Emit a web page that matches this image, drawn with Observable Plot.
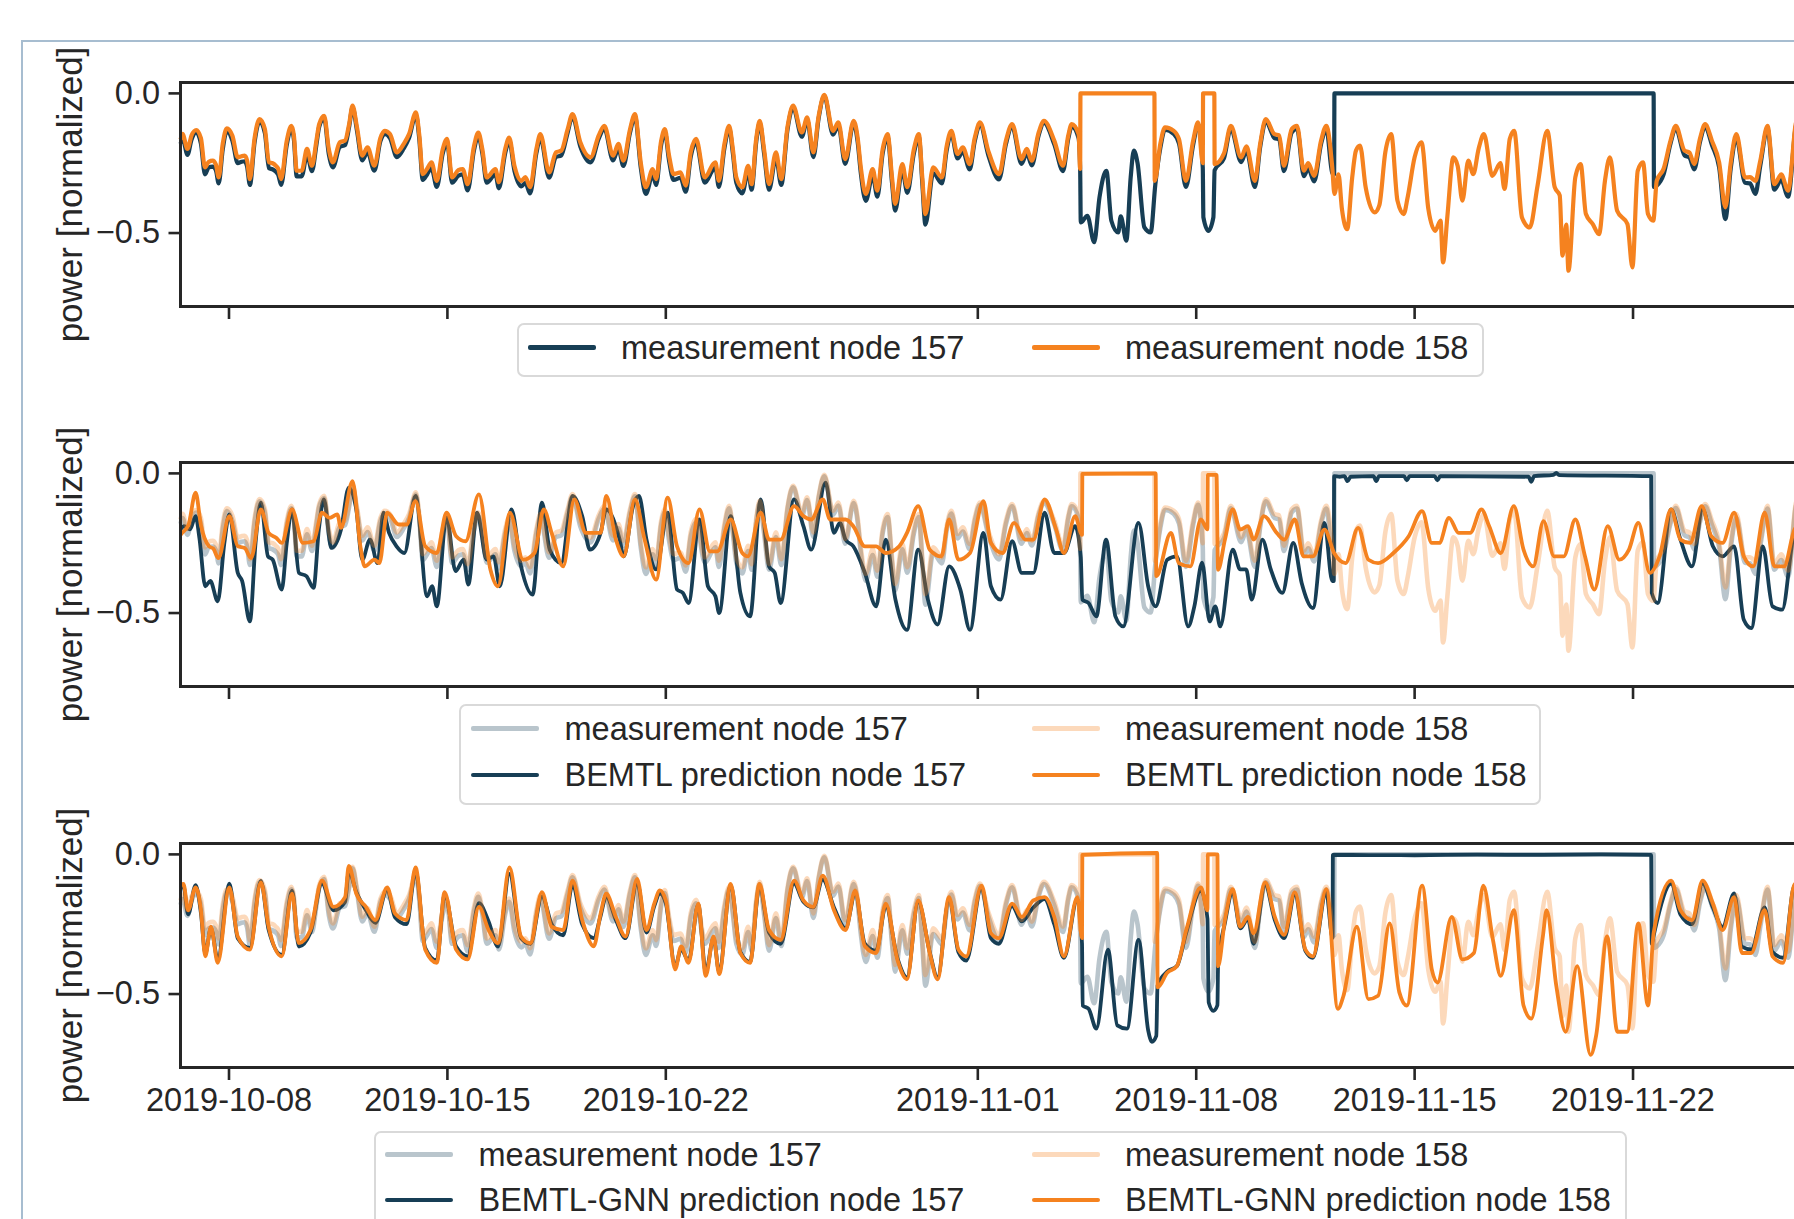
<!DOCTYPE html>
<html>
<head>
<meta charset="utf-8">
<script src="https://cdn.jsdelivr.net/npm/d3@7"></script>
<script src="https://cdn.jsdelivr.net/npm/@observablehq/plot@0.6"></script>
<style>
html,body{margin:0;padding:0;background:#fff;overflow:hidden;width:1794px;height:1219px;}
#wrap{position:relative;width:1794px;height:1219px;overflow:hidden;font-family:"Liberation Sans",Arial,sans-serif;color:#262626;background:#fff;}
#outer{position:absolute;left:21px;top:40px;width:2100px;height:2100px;border:2px solid #a7bdd0;box-sizing:border-box;}
.panel{position:absolute;left:0;width:1900px;}
.panel svg{max-width:none !important;}
.lbox{position:absolute;background:#fff;border:2px solid #d9d9d9;border-radius:7px;box-sizing:border-box;}
.lline{position:absolute;height:4.5px;border-radius:2px;}
.ltext{position:absolute;height:40px;line-height:40px;font-size:32.5px;white-space:nowrap;color:#262626;}
</style>
</head>
<body>
<div id="wrap"><div id="outer"></div></div>
<script>
// ---- data: [days since 2019-10-06 00:00 UTC, normalized power] ----
const startDate = "2019-10-06";
const xTickLabels = ["2019-10-08","2019-10-15","2019-10-22","2019-11-01","2019-11-08","2019-11-15","2019-11-22"];
const yTicks = [0, -0.5];
const yTickLabels = ["0.0", "\u22120.5"];
const yLabel = "power [normalized]";

const meas158 = [[0.45,-0.165],[0.51,-0.145],[0.67,-0.199],[0.80,-0.150],[0.95,-0.131],[1.10,-0.160],[1.23,-0.265],[1.35,-0.245],[1.48,-0.241],[1.58,-0.255],[1.67,-0.301],[1.80,-0.180],[1.93,-0.125],[2.11,-0.152],[2.28,-0.229],[2.40,-0.225],[2.50,-0.223],[2.58,-0.240],[2.67,-0.307],[2.82,-0.160],[2.98,-0.092],[3.15,-0.128],[3.28,-0.247],[3.40,-0.250],[3.50,-0.259],[3.58,-0.270],[3.67,-0.307],[3.85,-0.170],[4.00,-0.116],[4.08,-0.150],[4.17,-0.277],[4.33,-0.277],[4.50,-0.199],[4.66,-0.259],[4.80,-0.170],[4.89,-0.110],[5.05,-0.080],[5.20,-0.200],[5.33,-0.247],[5.55,-0.175],[5.72,-0.169],[5.85,-0.110],[5.96,-0.044],[6.10,-0.120],[6.27,-0.223],[6.44,-0.193],[6.66,-0.259],[6.85,-0.160],[6.99,-0.134],[7.16,-0.146],[7.38,-0.211],[7.60,-0.181],[7.77,-0.146],[7.99,-0.068],[8.10,-0.150],[8.21,-0.289],[8.35,-0.270],[8.49,-0.247],[8.66,-0.313],[8.85,-0.200],[8.99,-0.163],[9.15,-0.301],[9.35,-0.275],[9.49,-0.271],[9.65,-0.325],[9.85,-0.190],[9.99,-0.140],[10.12,-0.200],[10.26,-0.301],[10.54,-0.271],[10.65,-0.318],[10.85,-0.200],[10.98,-0.158],[11.15,-0.260],[11.37,-0.313],[11.50,-0.300],[11.65,-0.336],[11.85,-0.200],[11.98,-0.146],[12.26,-0.283],[12.48,-0.211],[12.65,-0.205],[12.85,-0.130],[13.01,-0.074],[13.26,-0.175],[13.59,-0.229],[13.85,-0.150],[14.03,-0.116],[14.31,-0.223],[14.48,-0.181],[14.64,-0.241],[14.85,-0.130],[15.01,-0.074],[15.20,-0.250],[15.36,-0.336],[15.58,-0.271],[15.69,-0.307],[15.85,-0.170],[15.97,-0.128],[16.10,-0.220],[16.25,-0.289],[16.47,-0.283],[16.64,-0.330],[16.80,-0.210],[16.97,-0.163],[17.25,-0.301],[17.52,-0.253],[17.59,-0.247],[17.70,-0.313],[17.88,-0.180],[18.03,-0.116],[18.15,-0.200],[18.26,-0.301],[18.45,-0.336],[18.64,-0.259],[18.75,-0.325],[18.90,-0.160],[19.01,-0.098],[19.15,-0.200],[19.31,-0.325],[19.53,-0.211],[19.70,-0.307],[19.90,-0.120],[20.08,-0.044],[20.36,-0.140],[20.53,-0.086],[20.73,-0.211],[20.90,-0.080],[21.08,-0.005],[21.36,-0.134],[21.53,-0.104],[21.75,-0.235],[22.02,-0.098],[22.15,-0.160],[22.25,-0.265],[22.41,-0.360],[22.63,-0.271],[22.78,-0.348],[22.95,-0.200],[23.11,-0.146],[23.25,-0.300],[23.35,-0.396],[23.58,-0.253],[23.74,-0.336],[23.95,-0.200],[24.11,-0.146],[24.22,-0.300],[24.32,-0.432],[24.57,-0.265],[24.85,-0.301],[25.00,-0.190],[25.15,-0.134],[25.35,-0.217],[25.52,-0.193],[25.74,-0.253],[25.90,-0.160],[26.07,-0.104],[26.35,-0.211],[26.68,-0.289],[26.90,-0.170],[27.10,-0.110],[27.40,-0.235],[27.57,-0.199],[27.73,-0.241],[27.95,-0.140],[28.12,-0.098],[28.45,-0.169],[28.73,-0.259],[28.90,-0.150],[29.01,-0.110],[29.23,-0.146],[29.28,-0.270],[29.29,0.0],[31.66,0.0],[31.67,-0.313],[31.85,-0.180],[32.00,-0.122],[32.28,-0.134],[32.45,-0.165],[32.67,-0.313],[32.90,-0.170],[33.06,-0.104],[33.21,-0.250],[33.22,0.0],[33.58,0.0],[33.59,-0.253],[33.89,-0.215],[34.11,-0.116],[34.44,-0.229],[34.61,-0.190],[34.88,-0.313],[35.05,-0.180],[35.23,-0.092],[35.51,-0.146],[35.66,-0.150],[35.81,-0.259],[36.06,-0.128],[36.23,-0.116],[36.45,-0.277],[36.59,-0.250],[36.78,-0.295],[37.00,-0.170],[37.17,-0.116],[37.36,-0.265],[37.43,-0.360],[37.56,-0.290],[37.67,-0.414],[37.84,-0.486],[38.00,-0.300],[38.12,-0.205],[38.25,-0.187],[38.43,-0.336],[38.72,-0.426],[38.87,-0.400],[39.06,-0.211],[39.25,-0.146],[39.45,-0.384],[39.65,-0.432],[39.78,-0.370],[40.00,-0.229],[40.22,-0.175],[40.44,-0.414],[40.66,-0.492],[40.83,-0.455],[40.91,-0.605],[41.05,-0.440],[41.24,-0.229],[41.38,-0.260],[41.53,-0.384],[41.72,-0.241],[41.88,-0.289],[42.05,-0.199],[42.22,-0.146],[42.49,-0.295],[42.75,-0.250],[42.88,-0.342],[43.05,-0.163],[43.19,-0.134],[43.44,-0.444],[43.69,-0.480],[43.94,-0.330],[44.25,-0.134],[44.49,-0.336],[44.65,-0.365],[44.74,-0.581],[44.86,-0.470],[44.93,-0.635],[45.15,-0.301],[45.32,-0.253],[45.49,-0.432],[45.71,-0.468],[45.91,-0.504],[46.10,-0.313],[46.26,-0.229],[46.49,-0.420],[46.82,-0.468],[46.98,-0.623],[47.15,-0.277],[47.32,-0.247],[47.48,-0.432],[47.65,-0.456],[47.76,-0.313],[47.98,-0.270],[48.20,-0.170],[48.37,-0.116],[48.65,-0.205],[48.81,-0.212],[48.96,-0.253],[49.15,-0.160],[49.31,-0.110],[49.53,-0.170],[49.76,-0.247],[49.96,-0.408],[50.13,-0.250],[50.31,-0.146],[50.59,-0.301],[50.75,-0.300],[50.92,-0.313],[51.08,-0.240],[51.31,-0.116],[51.53,-0.325],[51.75,-0.290],[51.97,-0.348],[52.25,-0.098],[52.40,-0.140]];

const meas157 = [[0.45,-0.180],[0.51,-0.160],[0.67,-0.220],[0.80,-0.165],[0.95,-0.140],[1.10,-0.180],[1.23,-0.290],[1.35,-0.265],[1.48,-0.262],[1.58,-0.275],[1.67,-0.322],[1.80,-0.200],[1.93,-0.135],[2.11,-0.170],[2.28,-0.250],[2.40,-0.245],[2.50,-0.243],[2.58,-0.262],[2.67,-0.328],[2.82,-0.175],[2.98,-0.100],[3.15,-0.142],[3.28,-0.268],[3.40,-0.272],[3.50,-0.280],[3.58,-0.292],[3.67,-0.328],[3.85,-0.185],[4.00,-0.125],[4.08,-0.165],[4.17,-0.297],[4.33,-0.297],[4.50,-0.218],[4.66,-0.278],[4.80,-0.185],[4.89,-0.120],[5.05,-0.088],[5.20,-0.218],[5.33,-0.265],[5.55,-0.192],[5.72,-0.185],[5.85,-0.120],[5.96,-0.050],[6.10,-0.132],[6.27,-0.240],[6.44,-0.210],[6.66,-0.277],[6.85,-0.172],[6.99,-0.145],[7.16,-0.160],[7.38,-0.228],[7.60,-0.197],[7.77,-0.160],[7.99,-0.076],[8.10,-0.165],[8.21,-0.310],[8.35,-0.290],[8.49,-0.267],[8.66,-0.335],[8.85,-0.215],[8.99,-0.175],[9.15,-0.320],[9.35,-0.295],[9.49,-0.290],[9.65,-0.347],[9.85,-0.205],[9.99,-0.152],[10.12,-0.215],[10.26,-0.320],[10.54,-0.290],[10.65,-0.340],[10.85,-0.215],[10.98,-0.170],[11.15,-0.278],[11.37,-0.333],[11.50,-0.320],[11.65,-0.358],[11.85,-0.215],[11.98,-0.158],[12.26,-0.302],[12.48,-0.228],[12.65,-0.222],[12.85,-0.142],[13.01,-0.082],[13.26,-0.190],[13.59,-0.247],[13.85,-0.162],[14.03,-0.126],[14.31,-0.240],[14.48,-0.197],[14.64,-0.260],[14.85,-0.142],[15.01,-0.082],[15.20,-0.268],[15.36,-0.360],[15.58,-0.290],[15.69,-0.328],[15.85,-0.185],[15.97,-0.138],[16.10,-0.238],[16.25,-0.310],[16.47,-0.302],[16.64,-0.352],[16.80,-0.226],[16.97,-0.175],[17.25,-0.320],[17.52,-0.272],[17.59,-0.265],[17.70,-0.335],[17.88,-0.195],[18.03,-0.125],[18.15,-0.215],[18.26,-0.320],[18.45,-0.358],[18.64,-0.278],[18.75,-0.345],[18.90,-0.172],[19.01,-0.106],[19.15,-0.215],[19.31,-0.345],[19.53,-0.228],[19.70,-0.328],[19.90,-0.130],[20.08,-0.050],[20.36,-0.155],[20.53,-0.095],[20.73,-0.228],[20.90,-0.088],[21.08,-0.010],[21.36,-0.148],[21.53,-0.115],[21.75,-0.252],[22.02,-0.106],[22.15,-0.175],[22.25,-0.285],[22.41,-0.385],[22.63,-0.292],[22.78,-0.370],[22.95,-0.215],[23.11,-0.156],[23.25,-0.320],[23.35,-0.420],[23.58,-0.272],[23.74,-0.356],[23.95,-0.215],[24.11,-0.156],[24.22,-0.320],[24.32,-0.470],[24.57,-0.285],[24.85,-0.322],[25.00,-0.205],[25.15,-0.144],[25.35,-0.233],[25.52,-0.208],[25.74,-0.272],[25.90,-0.172],[26.07,-0.112],[26.35,-0.226],[26.68,-0.308],[26.90,-0.182],[27.10,-0.118],[27.40,-0.252],[27.57,-0.214],[27.73,-0.258],[27.95,-0.150],[28.12,-0.106],[28.45,-0.182],[28.73,-0.278],[28.90,-0.162],[29.01,-0.118],[29.23,-0.160],[29.28,-0.270],[29.30,-0.462],[29.51,-0.438],[29.73,-0.533],[29.90,-0.372],[30.12,-0.277],[30.28,-0.456],[30.50,-0.498],[30.58,-0.440],[30.76,-0.527],[30.90,-0.300],[31.00,-0.205],[31.12,-0.250],[31.34,-0.480],[31.54,-0.498],[31.69,-0.325],[31.85,-0.195],[32.00,-0.130],[32.28,-0.145],[32.45,-0.180],[32.67,-0.335],[32.90,-0.185],[33.06,-0.112],[33.21,-0.265],[33.23,-0.444],[33.39,-0.492],[33.55,-0.444],[33.59,-0.275],[33.89,-0.232],[34.11,-0.125],[34.44,-0.246],[34.61,-0.205],[34.88,-0.335],[35.05,-0.192],[35.23,-0.100],[35.51,-0.160],[35.66,-0.165],[35.81,-0.278],[36.06,-0.140],[36.23,-0.126],[36.45,-0.296],[36.59,-0.268],[36.78,-0.315],[37.00,-0.182],[37.17,-0.126],[37.36,-0.285],[37.42,-0.290],[37.43,0.0],[47.66,0.0],[47.67,-0.335],[47.76,-0.330],[47.98,-0.290],[48.20,-0.180],[48.37,-0.124],[48.65,-0.222],[48.81,-0.230],[48.96,-0.272],[49.15,-0.172],[49.31,-0.118],[49.53,-0.185],[49.76,-0.265],[49.96,-0.450],[50.13,-0.270],[50.31,-0.158],[50.59,-0.320],[50.75,-0.322],[50.92,-0.360],[51.08,-0.258],[51.31,-0.126],[51.53,-0.345],[51.75,-0.310],[51.97,-0.370],[52.25,-0.108],[52.40,-0.150]];

const bemtl157 = [[0.45,-0.200],[0.56,-0.189],[0.75,-0.200],[0.93,-0.153],[1.05,-0.230],[1.24,-0.404],[1.40,-0.385],[1.64,-0.458],[1.85,-0.250],[2.01,-0.147],[2.28,-0.356],[2.42,-0.385],[2.67,-0.530],[2.85,-0.250],[3.02,-0.105],[3.25,-0.297],[3.40,-0.309],[3.69,-0.416],[3.85,-0.250],[4.02,-0.129],[4.24,-0.356],[4.48,-0.368],[4.71,-0.410],[4.88,-0.200],[5.04,-0.093],[5.28,-0.267],[5.59,-0.201],[5.84,-0.051],[6.08,-0.129],[6.27,-0.309],[6.52,-0.237],[6.76,-0.321],[6.95,-0.141],[7.13,-0.213],[7.37,-0.261],[7.62,-0.285],[7.98,-0.081],[8.35,-0.440],[8.51,-0.404],[8.66,-0.476],[8.97,-0.153],[9.26,-0.350],[9.52,-0.309],[9.67,-0.398],[9.95,-0.141],[10.26,-0.309],[10.48,-0.297],[10.68,-0.404],[11.05,-0.129],[11.36,-0.333],[11.73,-0.434],[12.03,-0.105],[12.28,-0.273],[12.65,-0.321],[13.01,-0.081],[13.32,-0.153],[13.57,-0.273],[13.91,-0.213],[14.09,-0.129],[14.52,-0.237],[14.65,-0.297],[14.95,-0.117],[15.14,-0.081],[15.38,-0.237],[15.69,-0.344],[16.06,-0.141],[16.36,-0.416],[16.55,-0.428],[16.73,-0.464],[17.08,-0.165],[17.35,-0.404],[17.59,-0.440],[17.71,-0.500],[18.08,-0.153],[18.39,-0.428],[18.70,-0.512],[19.04,-0.093],[19.31,-0.333],[19.49,-0.356],[19.68,-0.464],[20.11,-0.093],[20.41,-0.189],[20.66,-0.273],[21.12,-0.033],[21.39,-0.213],[21.58,-0.177],[21.76,-0.237],[22.01,-0.261],[22.38,-0.356],[22.74,-0.476],[23.05,-0.237],[23.36,-0.452],[23.73,-0.560],[24.09,-0.273],[24.40,-0.452],[24.71,-0.541],[25.08,-0.333],[25.44,-0.416],[25.75,-0.560],[26.18,-0.213],[26.42,-0.404],[26.73,-0.452],[27.10,-0.243],[27.41,-0.356],[27.78,-0.356],[28.14,-0.141],[28.45,-0.285],[28.76,-0.285],[29.12,-0.189],[29.30,-0.300],[29.35,-0.452],[29.55,-0.464],[29.80,-0.512],[30.11,-0.237],[30.41,-0.512],[30.66,-0.548],[31.15,-0.177],[31.46,-0.404],[31.70,-0.476],[32.07,-0.309],[32.38,-0.297],[32.74,-0.548],[32.94,-0.476],[33.19,-0.320],[33.43,-0.530],[33.61,-0.476],[33.77,-0.548],[34.17,-0.273],[34.41,-0.344],[34.60,-0.344],[34.78,-0.452],[35.12,-0.237],[35.39,-0.344],[35.76,-0.428],[36.11,-0.249],[36.38,-0.392],[36.74,-0.482],[37.11,-0.177],[37.36,-0.386],[37.41,-0.386],[37.42,-0.010],[37.60,-0.012],[37.75,-0.010],[37.85,-0.028],[37.95,-0.012],[38.68,-0.010],[38.77,-0.028],[38.86,-0.010],[39.66,-0.010],[39.75,-0.025],[39.84,-0.010],[40.64,-0.010],[40.73,-0.025],[40.82,-0.010],[43.65,-0.012],[43.74,-0.030],[43.83,-0.010],[44.45,-0.005],[44.54,0.002],[44.63,-0.006],[47.58,-0.010],[47.60,-0.428],[47.79,-0.464],[48.22,-0.129],[48.52,-0.237],[48.89,-0.333],[49.23,-0.129],[49.56,-0.261],[49.87,-0.297],[50.24,-0.261],[50.55,-0.524],[50.79,-0.554],[51.16,-0.261],[51.47,-0.476],[51.78,-0.488],[52.18,-0.213],[52.40,-0.200]];

const bemtl158 = [[0.45,-0.220],[0.50,-0.213],[0.70,-0.185],[0.93,-0.069],[1.10,-0.185],[1.36,-0.261],[1.50,-0.270],[1.66,-0.303],[2.01,-0.153],[2.28,-0.261],[2.50,-0.267],[2.71,-0.303],[3.02,-0.129],[3.27,-0.213],[3.52,-0.231],[3.69,-0.249],[4.02,-0.129],[4.37,-0.249],[4.71,-0.243],[4.98,-0.141],[5.23,-0.159],[5.47,-0.147],[5.59,-0.195],[5.96,-0.028],[6.21,-0.261],[6.35,-0.333],[6.66,-0.309],[6.82,-0.321],[7.07,-0.141],[7.44,-0.183],[7.69,-0.183],[7.98,-0.099],[8.29,-0.261],[8.66,-0.285],[8.97,-0.141],[9.28,-0.225],[9.58,-0.243],[10.01,-0.075],[10.38,-0.345],[10.62,-0.404],[11.00,-0.141],[11.43,-0.309],[11.79,-0.285],[12.09,-0.129],[12.34,-0.213],[12.71,-0.333],[13.07,-0.093],[13.44,-0.213],[13.91,-0.213],[14.09,-0.081],[14.40,-0.237],[14.65,-0.297],[15.01,-0.093],[15.32,-0.237],[15.69,-0.380],[16.06,-0.087],[16.36,-0.261],[16.73,-0.321],[17.08,-0.129],[17.41,-0.279],[17.65,-0.279],[18.08,-0.165],[18.45,-0.285],[18.63,-0.297],[19.04,-0.141],[19.31,-0.237],[19.68,-0.237],[20.11,-0.117],[20.41,-0.153],[20.66,-0.165],[21.03,-0.093],[21.27,-0.165],[21.76,-0.165],[22.01,-0.189],[22.38,-0.261],[22.74,-0.261],[23.05,-0.285],[23.48,-0.261],[23.73,-0.213],[24.09,-0.117],[24.46,-0.273],[24.83,-0.297],[25.08,-0.165],[25.38,-0.309],[25.75,-0.285],[26.18,-0.099],[26.42,-0.249],[26.79,-0.285],[27.16,-0.177],[27.53,-0.237],[27.78,-0.237],[28.14,-0.093],[28.51,-0.201],[28.76,-0.285],[29.12,-0.153],[29.34,-0.220],[29.35,-0.002],[31.70,0.0],[31.72,-0.368],[32.19,-0.213],[32.44,-0.321],[32.81,-0.333],[33.15,-0.165],[33.36,-0.200],[33.37,-0.005],[33.65,-0.005],[33.70,-0.345],[33.92,-0.237],[34.17,-0.129],[34.41,-0.201],[34.66,-0.189],[34.84,-0.237],[35.17,-0.153],[35.58,-0.213],[35.82,-0.237],[36.16,-0.165],[36.44,-0.297],[36.74,-0.297],[37.11,-0.201],[37.42,-0.285],[37.79,-0.321],[38.19,-0.195],[38.52,-0.309],[38.83,-0.321],[39.32,-0.285],[39.81,-0.225],[40.24,-0.135],[40.55,-0.249],[40.79,-0.249],[41.10,-0.159],[41.41,-0.213],[41.78,-0.213],[42.14,-0.129],[42.39,-0.189],[42.76,-0.285],[43.18,-0.117],[43.49,-0.273],[43.80,-0.333],[44.13,-0.171],[44.47,-0.297],[44.78,-0.297],[45.15,-0.165],[45.46,-0.297],[45.76,-0.416],[46.19,-0.189],[46.56,-0.309],[46.87,-0.273],[47.17,-0.177],[47.54,-0.356],[47.85,-0.297],[48.22,-0.129],[48.52,-0.237],[48.83,-0.249],[49.20,-0.117],[49.51,-0.225],[49.87,-0.249],[50.24,-0.141],[50.55,-0.297],[50.85,-0.333],[51.22,-0.141],[51.53,-0.333],[51.84,-0.333],[52.18,-0.200],[52.40,-0.180]];

const gnn157 = [[0.45,-0.120],[0.54,-0.115],[0.69,-0.215],[0.93,-0.110],[1.10,-0.210],[1.24,-0.355],[1.42,-0.265],[1.64,-0.375],[2.01,-0.105],[2.28,-0.300],[2.67,-0.335],[3.02,-0.095],[3.27,-0.270],[3.69,-0.360],[4.02,-0.130],[4.24,-0.330],[4.61,-0.280],[4.98,-0.105],[5.35,-0.200],[5.72,-0.170],[5.84,-0.060],[6.08,-0.135],[6.39,-0.200],[6.69,-0.245],[7.07,-0.125],[7.32,-0.225],[7.69,-0.250],[7.98,-0.060],[8.29,-0.335],[8.66,-0.380],[8.91,-0.145],[9.28,-0.330],[9.65,-0.365],[10.01,-0.175],[10.32,-0.240],[10.62,-0.330],[10.99,-0.070],[11.36,-0.300],[11.66,-0.320],[12.03,-0.150],[12.34,-0.250],[12.71,-0.290],[13.01,-0.110],[13.32,-0.250],[13.69,-0.300],[13.91,-0.220],[14.09,-0.150],[14.40,-0.235],[14.71,-0.300],[15.08,-0.100],[15.38,-0.280],[15.63,-0.185],[15.81,-0.140],[16.00,-0.175],[16.30,-0.400],[16.49,-0.340],[16.73,-0.380],[17.04,-0.180],[17.28,-0.420],[17.53,-0.300],[17.71,-0.420],[18.08,-0.110],[18.39,-0.350],[18.70,-0.385],[19.00,-0.115],[19.31,-0.280],[19.68,-0.320],[20.11,-0.105],[20.41,-0.170],[20.72,-0.190],[21.03,-0.090],[21.39,-0.190],[21.76,-0.265],[22.07,-0.140],[22.38,-0.320],[22.74,-0.345],[23.05,-0.185],[23.42,-0.370],[23.73,-0.440],[24.09,-0.170],[24.46,-0.350],[24.71,-0.440],[25.08,-0.160],[25.38,-0.350],[25.63,-0.380],[26.12,-0.120],[26.42,-0.300],[26.67,-0.320],[27.10,-0.185],[27.41,-0.240],[27.78,-0.190],[28.14,-0.160],[28.45,-0.250],[28.76,-0.370],[29.19,-0.160],[29.34,-0.320],[29.36,-0.541],[29.55,-0.553],[29.80,-0.624],[30.17,-0.341],[30.47,-0.612],[30.78,-0.624],[31.15,-0.306],[31.46,-0.630],[31.58,-0.671],[31.72,-0.650],[31.76,-0.470],[32.07,-0.420],[32.38,-0.400],[32.68,-0.280],[33.15,-0.130],[33.36,-0.230],[33.40,-0.530],[33.55,-0.560],[33.68,-0.540],[33.70,-0.400],[33.92,-0.245],[34.17,-0.135],[34.41,-0.265],[34.66,-0.230],[34.84,-0.320],[35.21,-0.110],[35.52,-0.235],[35.82,-0.300],[36.16,-0.145],[36.50,-0.345],[36.74,-0.370],[37.17,-0.135],[37.37,-0.300],[37.38,-0.002],[40.00,-0.003],[42.00,-0.001],[44.00,-0.002],[46.00,0.000],[47.58,-0.002],[47.60,-0.320],[47.66,-0.290],[48.22,-0.105],[48.52,-0.215],[48.89,-0.250],[49.23,-0.105],[49.56,-0.190],[49.87,-0.260],[50.24,-0.140],[50.49,-0.330],[50.79,-0.340],[51.22,-0.190],[51.47,-0.350],[51.81,-0.370],[52.18,-0.110],[52.40,-0.155]];

const gnn158 = [[0.45,-0.110],[0.54,-0.106],[0.69,-0.200],[0.93,-0.118],[1.10,-0.200],[1.24,-0.365],[1.42,-0.259],[1.64,-0.388],[2.01,-0.118],[2.28,-0.294],[2.67,-0.341],[3.02,-0.100],[3.27,-0.259],[3.69,-0.365],[4.02,-0.141],[4.24,-0.318],[4.61,-0.271],[4.98,-0.094],[5.35,-0.188],[5.72,-0.153],[5.84,-0.041],[6.08,-0.141],[6.39,-0.188],[6.69,-0.235],[7.07,-0.118],[7.32,-0.212],[7.69,-0.235],[7.98,-0.047],[8.29,-0.341],[8.66,-0.388],[8.91,-0.135],[9.28,-0.341],[9.65,-0.376],[10.01,-0.188],[10.32,-0.271],[10.62,-0.318],[10.99,-0.047],[11.36,-0.294],[11.66,-0.318],[12.03,-0.135],[12.34,-0.259],[12.71,-0.271],[13.01,-0.094],[13.32,-0.235],[13.69,-0.329],[13.91,-0.212],[14.09,-0.141],[14.40,-0.224],[14.71,-0.294],[15.08,-0.088],[15.38,-0.271],[15.63,-0.176],[15.81,-0.129],[16.00,-0.165],[16.30,-0.412],[16.49,-0.329],[16.73,-0.388],[17.04,-0.176],[17.28,-0.435],[17.53,-0.294],[17.71,-0.429],[18.08,-0.106],[18.39,-0.353],[18.70,-0.388],[19.00,-0.106],[19.31,-0.271],[19.68,-0.306],[20.11,-0.094],[20.41,-0.165],[20.72,-0.188],[21.03,-0.076],[21.39,-0.200],[21.76,-0.271],[22.07,-0.129],[22.38,-0.329],[22.74,-0.353],[23.05,-0.176],[23.42,-0.376],[23.73,-0.447],[24.09,-0.165],[24.46,-0.353],[24.71,-0.447],[25.08,-0.153],[25.38,-0.341],[25.63,-0.365],[26.12,-0.112],[26.42,-0.282],[26.67,-0.300],[27.10,-0.176],[27.41,-0.224],[27.78,-0.165],[28.14,-0.153],[28.45,-0.224],[28.76,-0.365],[29.19,-0.153],[29.34,-0.300],[29.35,-0.002],[31.75,0.005],[31.76,-0.476],[32.07,-0.424],[32.38,-0.400],[32.68,-0.271],[33.15,-0.118],[33.36,-0.200],[33.37,0.0],[33.68,0.0],[33.70,-0.400],[33.92,-0.235],[34.17,-0.124],[34.41,-0.259],[34.66,-0.224],[34.84,-0.282],[35.21,-0.100],[35.52,-0.224],[35.82,-0.288],[36.16,-0.135],[36.50,-0.341],[36.74,-0.365],[37.17,-0.124],[37.54,-0.553],[37.72,-0.506],[38.15,-0.259],[38.52,-0.518],[38.83,-0.506],[39.20,-0.247],[39.51,-0.494],[39.75,-0.541],[40.24,-0.112],[40.55,-0.412],[40.73,-0.459],[41.19,-0.224],[41.53,-0.376],[41.90,-0.353],[42.20,-0.112],[42.51,-0.306],[42.76,-0.435],[43.18,-0.200],[43.49,-0.541],[43.74,-0.588],[44.11,-0.294],[44.23,-0.200],[44.54,-0.470],[44.84,-0.635],[45.21,-0.400],[45.64,-0.718],[45.82,-0.647],[46.17,-0.294],[46.50,-0.635],[46.81,-0.635],[47.17,-0.247],[47.48,-0.541],[47.66,-0.282],[48.22,-0.094],[48.52,-0.200],[48.89,-0.235],[49.23,-0.094],[49.56,-0.176],[49.87,-0.271],[50.24,-0.153],[50.49,-0.353],[50.79,-0.353],[51.22,-0.200],[51.47,-0.365],[51.81,-0.388],[52.18,-0.106],[52.40,-0.150]];

const legend1Labels = ["measurement node 157", "measurement node 158"];
const legend2Labels = ["measurement node 157", "BEMTL prediction node 157", "measurement node 158", "BEMTL prediction node 158"];
const legend3Labels = ["measurement node 157", "BEMTL-GNN prediction node 157", "measurement node 158", "BEMTL-GNN prediction node 158"];

// ---- styling ----
const DARK = "#173e55";
const ORANGE = "#f5821f";
const FAINT = 0.3;
const FONT = "'Liberation Sans', Arial, Helvetica, sans-serif";
const INK = "#262626";

const T0 = d3.utcParse("%Y-%m-%d")(startDate).getTime();
const toDate = t => new Date(T0 + t * 864e5);
const xTicks = xTickLabels.map(d3.utcParse("%Y-%m-%d"));
const xDomain = [toDate(0.4455), toDate(53.97)];

const wrap = document.getElementById("wrap");

function drawPanel(top, series, showX) {
  const mt = 12, ph = 224, mb = 70;
  const marks = series.map(s => Plot.line(s.data, {
    x: d => toDate(d[0]), y: d => d[1],
    stroke: s.color, strokeOpacity: s.opacity, strokeWidth: s.width,
    strokeLinejoin: "round", strokeLinecap: "butt", curve: "monotone-x"
  }));
  marks.push(Plot.frame({stroke: INK, strokeWidth: 3}));
  marks.push(Plot.axisY({ticks: yTicks, tickSize: 11.5, tickPadding: 9, strokeWidth: 2.6,
    tickFormat: v => yTickLabels[yTicks.indexOf(v)], label: null, fontSize: 32.5}));
  marks.push(Plot.axisX({ticks: xTicks, tickSize: 13, tickPadding: 7, strokeWidth: 2.6,
    tickFormat: showX ? d3.utcFormat("%Y-%m-%d") : () => "", label: null, fontSize: 32.5}));
  marks.push(Plot.text([yLabel], {frameAnchor: "left", rotate: -90, dx: -110,
    fontSize: 35, fill: INK, textAnchor: "middle", lineAnchor: "middle"}));
  const svg = Plot.plot({
    width: 1900, height: mt + ph + mb,
    marginLeft: 180, marginRight: 50, marginTop: mt, marginBottom: mb,
    style: {fontFamily: FONT, fontSize: "32.5px", color: INK, background: "transparent", overflow: "visible", maxWidth: "none"},
    x: {type: "utc", domain: xDomain},
    y: {domain: [-0.763, 0.039]},
    marks
  });
  const div = document.createElement("div");
  div.className = "panel";
  div.style.top = (top - mt) + "px";
  div.appendChild(svg);
  wrap.appendChild(div);
}

function drawLegend(box, items) {
  const b = document.createElement("div");
  b.className = "lbox";
  Object.assign(b.style, {left: box[0] + "px", top: box[1] + "px", width: box[2] + "px", height: box[3] + "px"});
  wrap.appendChild(b);
  for (const it of items) {
    const l = document.createElement("div");
    l.className = "lline";
    Object.assign(l.style, {left: it.x + "px", top: (it.y - 2.25) + "px", width: "68px", background: it.color, opacity: it.opacity});
    wrap.appendChild(l);
    const t = document.createElement("div");
    t.className = "ltext";
    t.textContent = it.label;
    Object.assign(t.style, {left: it.tx + "px", top: (it.y - 20) + "px"});
    wrap.appendChild(t);
  }
}

drawPanel(82, [
  {data: meas157, color: DARK, opacity: 1, width: 4.2},
  {data: meas158, color: ORANGE, opacity: 1, width: 4.2}
], false);
drawPanel(462.3, [
  {data: meas157, color: DARK, opacity: FAINT, width: 4.6},
  {data: bemtl157, color: DARK, opacity: 1, width: 3.8},
  {data: meas158, color: ORANGE, opacity: FAINT, width: 4.6},
  {data: bemtl158, color: ORANGE, opacity: 1, width: 3.8}
], false);
drawPanel(842.7, [
  {data: meas157, color: DARK, opacity: FAINT, width: 4.6},
  {data: gnn157, color: DARK, opacity: 1, width: 3.8},
  {data: meas158, color: ORANGE, opacity: FAINT, width: 4.6},
  {data: gnn158, color: ORANGE, opacity: 1, width: 3.8}
], true);

drawLegend([517, 323, 967, 54], [
  {x: 528, y: 347.5, tx: 621, label: legend1Labels[0], color: DARK, opacity: 1},
  {x: 1032, y: 347.5, tx: 1125, label: legend1Labels[1], color: ORANGE, opacity: 1}
]);
drawLegend([459, 704, 1082, 101], [
  {x: 471, y: 728.5, tx: 564.5, label: legend2Labels[0], color: DARK, opacity: FAINT},
  {x: 471, y: 775, tx: 564.5, label: legend2Labels[1], color: DARK, opacity: 1},
  {x: 1032, y: 728.5, tx: 1125, label: legend2Labels[2], color: ORANGE, opacity: FAINT},
  {x: 1032, y: 775, tx: 1125, label: legend2Labels[3], color: ORANGE, opacity: 1}
]);
drawLegend([374, 1131, 1253, 101], [
  {x: 385, y: 1154.5, tx: 478.5, label: legend3Labels[0], color: DARK, opacity: FAINT},
  {x: 385, y: 1200, tx: 478.5, label: legend3Labels[1], color: DARK, opacity: 1},
  {x: 1032, y: 1154.5, tx: 1125, label: legend3Labels[2], color: ORANGE, opacity: FAINT},
  {x: 1032, y: 1200, tx: 1125, label: legend3Labels[3], color: ORANGE, opacity: 1}
]);
</script>
</body>
</html>
